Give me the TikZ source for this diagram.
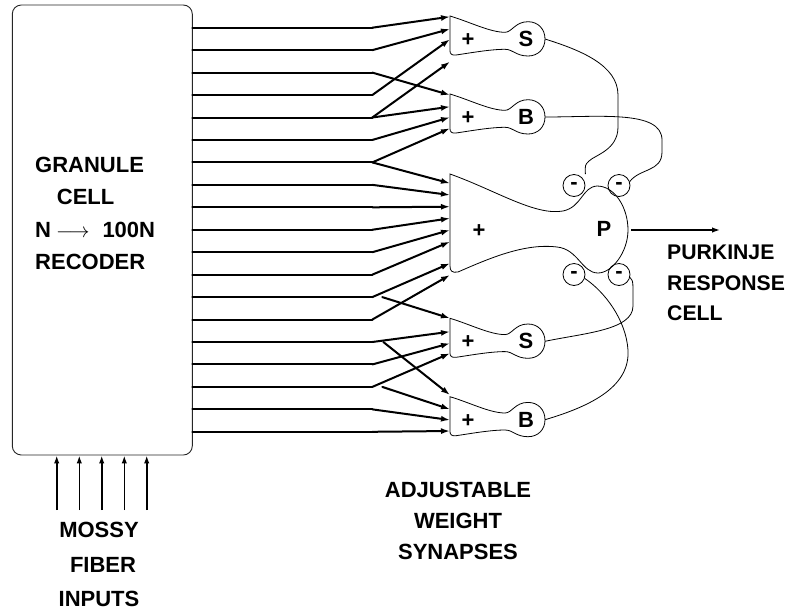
\documentclass[tikz,border=0pt]{standalone}
\usepackage{fontspec}
\setmainfont{Liberation Sans}
\usetikzlibrary{arrows.meta}

\begin{document}
\begin{tikzpicture}[x=1pt,y=-1pt,
  fiber/.style={line width=2pt,line cap=round},
  tip/.style={-{Latex[length=9pt,width=6pt]}},
  cellline/.style={line width=0.8pt},
  lab/.style={font=\fontsize{22}{#1}\selectfont\bfseries,inner sep=0pt},
  lab/.default=27,
  minus/.style={draw,circle,cellline,minimum size=22pt,inner sep=0pt,lab},
  unit/.pic={
    \draw[cellline] (0,0) .. controls (20,6) and (40,16.3) .. (55,16.3)
      .. controls (62,16.3) and (65,5.7) .. (78,5.7)
      .. controls (88,5.7) and (95,13) .. (95,23)
      .. controls (95,33) and (88,40) .. (78,40)
      .. controls (66,40) and (63,33.3) .. (55,33.3)
      .. controls (40,33.3) and (20,37) .. (6,39)
      .. controls (2,39.5) and (0,38) .. (0,35) -- cycle;
    \node[lab] (-plus) at (18,24) {+};
    \node[lab] (-name) at (76,23) {#1};
    \coordinate (-out) at (95,23);
  }]
\useasboundingbox (0,0) rectangle (788,614);

% granule cell recoder
\node[draw,black!85,line width=0.9pt,rounded corners=9pt,minimum width=180pt,minimum height=450pt] (granule) at (102.3,230) {};
\node[lab=32.5,align=left,anchor=north west] (gctext) at (35,156.5)
  {GRANULE\\\hspace*{21.7pt}CELL\\N\hspace{5pt}$\longrightarrow$\hspace{13pt}100N\\RECODER};

% mossy fiber inputs
\foreach \x in {56.7,79.3,101.7,124.3,146.7}
  \draw[line width=1.6pt,-{Latex[length=8pt,width=5.5pt]}] (\x,510) -- (\x,510 |- granule.south);
\node[lab=34.5,align=center,anchor=north] (mossy) at (99,522) {MOSSY\\\hspace*{8pt}FIBER\\INPUTS};

% parallel fibers
\foreach \i in {1,...,19}
  \coordinate (g\i) at (192.3,{27.7+22.45*(\i-1)});
\foreach \i in {1,...,19}
  \draw[fiber] (g\i) -- ++(180,0);
\foreach \i/\d/\t in {1/180/16.7, 2/180/29, 3/180/95, 4/180/39.3, 5/180/61.7, 5/180/106.7,
    6/180/117.3, 7/180/128.3, 7/180/183.3, 8/180/195, 9/180/206.7, 10/180/218.3,
    11/180/230, 12/180/241.7, 13/180/263.3, 13/190/318.3, 14/180/275, 15/180/331.7,
    15/191/395, 16/180/343.3, 17/180/353.3, 17/190/409.3, 18/180/420, 19/180/431}
  \draw[fiber,tip] ([xshift=\d pt]g\i) -- (450,\t);

% stellate and basket cells
\pic (s1) at (450,16) {unit=S};
\pic (b1) at (450,94) {unit=B};
\pic (s2) at (450,318.3) {unit=S};
\pic (b2) at (450,396.7) {unit=B};

% purkinje cell
\draw[cellline] (450,174) .. controls (495,190) and (535,216) .. (563,211)
  .. controls (582,207) and (582,187) .. (597,186)
  .. controls (615,186) and (628,208) .. (628,230)
  .. controls (628,252) and (612,273) .. (598,273)
  .. controls (582,273) and (578,249) .. (557,247)
  .. controls (525,243) and (490,258) .. (458,272)
  .. controls (452,273) and (450,271) .. (450,266) -- cycle;
\node[lab] (pplus) at (479,231) {+};
\node[lab] (p) at (604,229) {P};
\node[minus] (m1) at (574,185.5) {-};
\node[minus] (m2) at (619,185.5) {-};
\node[minus] (m3) at (574,274.5) {-};
\node[minus] (m4) at (619,274.5) {-};

% inhibitory connections
\draw[cellline] (s1-out) .. controls (580,50) and (618,65) .. (618,95) -- (618,127)
  .. controls (618,150) and (595,155) .. (589,161) .. controls (585,165) .. (m1.north -| m1.east);
\draw[cellline] (b1-out) .. controls (600,117) and (662,110) .. (662,140) -- (662,152)
  .. controls (662,172) and (640,168) .. (m2.20);
\draw[cellline] (s2-out) .. controls (585,333) and (633,330) .. (633,306) -- (633,288)
  .. controls (633,281) and (632,279) .. (m4.-15);
\draw[cellline] (b2-out) .. controls (595,405) and (630,385) .. (628,350)
  .. controls (626,320) and (605,292) .. (m3.-20);

% output
\coordinate (pout) at (631,230);
\coordinate (resp) at (720,230);
\draw[line width=1.4pt,-{Latex[length=8pt,width=5.5pt]}] (pout) -- (resp);
\node[lab=30.5,align=left,anchor=north west,font=\fontsize{21.2}{30.5}\selectfont\bfseries] (purk) at (667,245) {PURKINJE\\RESPONSE\\CELL};
\node[lab=31.3,align=center,anchor=north] (adj) at (458,481.7) {ADJUSTABLE\\WEIGHT\\SYNAPSES};
\end{tikzpicture}
\end{document}
